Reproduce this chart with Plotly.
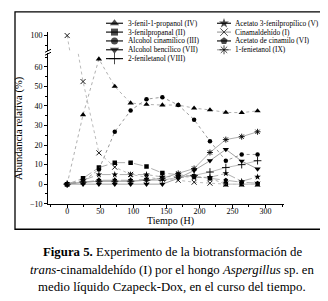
import plotly.graph_objects as go

W, H = 328, 301

# ---------------- data ----------------
tiempo = [0, 24, 48, 72, 96, 120, 144, 168, 192, 216, 240, 264, 288]

fenilpropanol_IV = [0, 35.5, 64, 50, 41.5, 40.8, 40.5, 40.5, 38.9, 38, 36.7, 36.6, 37.5]
fenilpropanal_II = [0, 3, 8.5, 11, 11, 9, 5.7, 5, 4, 3, 0, 0, 0]
alcohol_cinamilico_III = [0, 1.5, 7.5, 26.8, 37.7, 43.5, 44.5, 40.5, 33, 22, 12, 15.2, 15.2]
alcohol_bencilico_VII = [0, 0, 0, 0, 0, 0, 0, 3, 7, 12, 17.8, 11.8, 7.8]
feniletanol_VIII = [0, 1, 1.5, 1.5, 1.5, 2, 2, 3.5, 4.5, 6.2, 8.5, 10, 12]
acetato_fenilpropilico_V = [0, 2, 4.9, 4.9, 4.9, 4.9, 3.7, 4, 3.5, 3.5, 5.5, 1.5, 3.7]
cinamaldehido_I = [100, 52.5, 16, 8.7, 5, 3.5, 2.5, 2, 1, 0.5, 0, 0, 0]
acetato_cinamilo_VI = [0, 1, 2, 2, 2, 2.5, 3, 3.5, 3.7, 3, 2, 1, 0.5]
fenietanol_IX = [0, 1, 1.5, 1.5, 1.5, 2, 3, 5.5, 8, 16.2, 22.8, 24.3, 26.8]

x_ticks = [0, 50, 100, 150, 200, 250, 300]
y_ticks_low = [-10, 0, 10, 20, 30, 40, 50, 60]
y_ticks_high = [100]

# ---------------- styles ----------------
FONT = "Liberation Serif"
GRAY = "#9a9a9a"

series = [
    # name, values, symbol, size, line dash, line color, legend col, legend row, legend line color
    ("3-fenil-1-propanol (IV)", fenilpropanol_IV, "triangle-up", 5.5, "dot", GRAY, 0, 0, "black"),
    ("3-fenilpropanal (II)", fenilpropanal_II, "square", 4.5, "dashdot", GRAY, 0, 1, "black"),
    ("Alcohol cinamílico (III)", alcohol_cinamilico_III, "circle", 4.5, "dot", "#808080", 0, 2, "black"),
    ("Alcohol bencílico (VII)", alcohol_bencilico_VII, "triangle-down", 5.5, "solid", "#8a8a8a", 0, 3, "black"),
    ("2-feniletanol (VIII)", feniletanol_VIII, "cross-thin-open", 5.5, "solid", "#aaaaaa", 0, 4, "black"),
    ("Acetato 3-fenilpropílico (V)", acetato_fenilpropilico_V, "star", 5, "dashdot", GRAY, 1, 0, "black"),
    ("Cinamaldehído (I)", cinamaldehido_I, "x-thin-open", 5, "dot", "#aaaaaa", 1, 1, GRAY),
    ("Acetato de cinamilo (VI)", acetato_cinamilo_VI, "pentagon", 5, "dash", GRAY, 1, 2, "black"),
    ("1-fenietanol (IX)", fenietanol_IX, "asterisk-open", 5, "solid", "#999999", 1, 3, GRAY),
]

def px_x(p):
    return p / W

def px_y(p):
    return 1 - p / H

fig = go.Figure()

for name, vals, sym, sz, dash, lc, col, row, llc in series:
    thin = sym.endswith("-open")
    marker = dict(symbol=sym, size=sz, color="black",
                  line=dict(color="black", width=0.9 if thin else 0))
    fig.add_trace(go.Scatter(
        x=tiempo, y=vals, mode="lines+markers", name=name,
        line=dict(color=lc, width=0.8, dash=dash), marker=marker,
        xaxis="x", yaxis="y", showlegend=False, hoverinfo="skip"))
    if max(vals) > 67:
        # part above the axis break
        fig.add_trace(go.Scatter(
            x=tiempo, y=vals, mode="lines+markers", name=name,
            line=dict(color=lc, width=0.8, dash=dash), marker=marker,
            xaxis="x", yaxis="y2", showlegend=False, hoverinfo="skip"))

# ---------------- manual legend (layout positions in pixels) ----------------
leg_cols = [dict(l0=98, l1=115, m=106.5, t=118), dict(l0=209, l1=223, m=216, t=225)]
leg_rows = [15.5, 24.5, 33.5, 42.5, 51.5]
for name, vals, sym, sz, dash, lc, col, row, llc in series:
    c = leg_cols[col]
    yy = leg_rows[row]
    thin = sym.endswith("-open")
    fig.add_trace(go.Scatter(
        x=[c["l0"], c["m"], c["l1"]], y=[yy, yy, yy], mode="lines+markers",
        line=dict(color=llc, width=1.1),
        marker=dict(symbol=sym, size=[0, sz + 2.5, 0], color="black",
                    line=dict(color="black", width=1 if thin else 0)),
        xaxis="x3", yaxis="y3", showlegend=False, hoverinfo="skip"))
    fig.add_annotation(x=px_x(c["t"]), y=px_y(yy), xref="paper", yref="paper",
                       text=name, showarrow=False, xanchor="left", yanchor="middle",
                       font=dict(family=FONT, size=7.4, color="black"))

# ---------------- axes ----------------
plot_l, plot_r = 40, 276
low_top, low_bot = 46, 199
up_top, up_bot = 24, 44

axis_common = dict(showline=True, linecolor="black", linewidth=1, ticks="outside",
                   tickcolor="black", ticklen=3, tickwidth=1, showgrid=False, zeroline=False,
                   tickfont=dict(family=FONT, size=8, color="black"))

fig.update_layout(
    width=W, height=H,
    margin=dict(l=0, r=0, t=0, b=0),
    paper_bgcolor="white", plot_bgcolor="rgba(0,0,0,0)",
    showlegend=False,
    xaxis=dict(domain=[px_x(plot_l), px_x(plot_r)], range=[-29, 328], anchor="y",
               tickvals=x_ticks, ticklabelstandoff=-3,
               minor=dict(dtick=25, tick0=0, ticks="outside", ticklen=2, tickcolor="black"),
               **axis_common),
    yaxis=dict(domain=[px_y(low_bot), px_y(low_top)], range=[-10, 67], anchor="x",
               tickvals=y_ticks_low, minor=dict(dtick=5, tick0=0, ticks="outside", ticklen=2, tickcolor="black"),
               title=dict(text="Abundancia relativa (%)", font=dict(family=FONT, size=10.5, color="black"), standoff=5),
               **axis_common),
    yaxis2=dict(domain=[px_y(up_bot), px_y(up_top)], range=[92, 102], anchor="x",
                tickvals=y_ticks_high, minor=dict(dtick=5, tick0=0, ticks="outside", ticklen=2, tickcolor="black"),
                **axis_common),
    xaxis3=dict(domain=[0, 1], range=[0, W], visible=False, anchor="y3", fixedrange=True),
    yaxis3=dict(domain=[0, 1], range=[H, 0], visible=False, anchor="x3", fixedrange=True),
)

# x axis title
fig.add_annotation(x=px_x(162), y=px_y(217), xref="paper", yref="paper",
                   text="Tiempo (H)", showarrow=False, xanchor="center", yanchor="middle",
                   font=dict(family=FONT, size=10, color="black"))

# frame around the chart
fig.add_shape(type="rect", xref="paper", yref="paper",
              x0=px_x(7), x1=px_x(324), y0=px_y(225), y1=px_y(4),
              line=dict(color="black", width=1.3))
# axis break marks
for yb in (43.5, 46.5):
    fig.add_shape(type="line", xref="paper", yref="paper",
                  x0=px_x(37), x1=px_x(43), y0=px_y(yb + 1.5), y1=px_y(yb - 1.5),
                  line=dict(color="black", width=1))

# caption
caption = [
    "<b>Figura 5.</b> Experimento de la biotransformación de",
    "<i>trans</i>-cinamaldehído (I) por el hongo <i>Aspergillus</i> sp. en",
    "medio líquido Czapeck-Dox, en el curso del tiempo.",
]
for i, line in enumerate(caption):
    fig.add_annotation(x=0.5, y=px_y(248 + 18 * i), xref="paper", yref="paper",
                       text=line, showarrow=False, xanchor="center", yanchor="middle",
                       font=dict(family=FONT, size=12.8, color="black"))

fig.write_html("out.html")
